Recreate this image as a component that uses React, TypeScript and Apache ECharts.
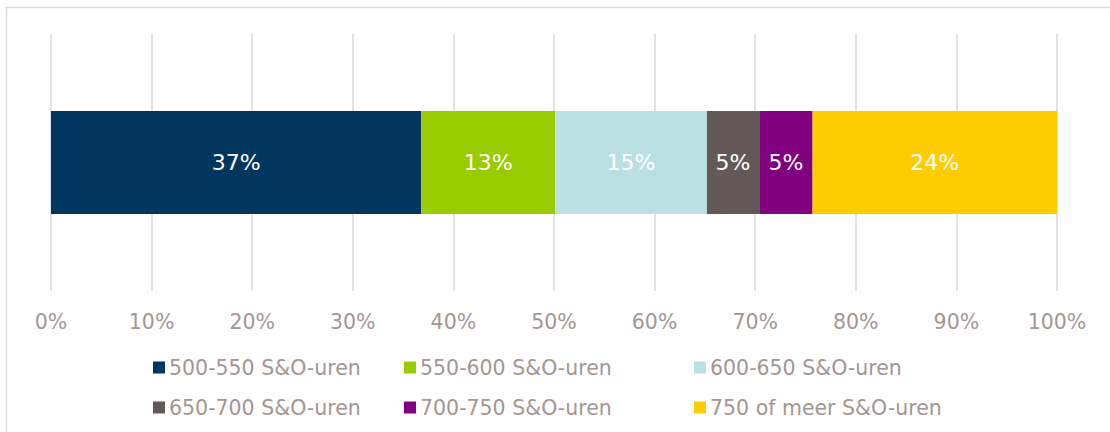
import React, { useEffect, useRef } from "react";
import * as echarts from "echarts";

const seriesNames = [
  "500-550 S&O-uren",
  "550-600 S&O-uren",
  "600-650 S&O-uren",
  "650-700 S&O-uren",
  "700-750 S&O-uren",
  "750 of meer S&O-uren",
];
const seriesValues = [36.8, 13.3, 15.1, 5.2, 5.3, 24.3];
const seriesColors = ["#003660", "#99cc00", "#bbe0e3", "#635958", "#800080", "#ffcc00"];
const categories = [""];
const legendPositions = [
  [153, 357],
  [404, 357],
  [694, 357],
  [153, 397],
  [404, 397],
  [694, 397],
];

const FONT = "DejaVu Sans, Verdana, sans-serif";
const TEXT = "#a39693";

export default function App() {
  const ref = useRef<HTMLDivElement>(null);
  useEffect(() => {
    if (!ref.current) return;
    const chart = echarts.init(ref.current, null, { renderer: "svg" });
    chart.setOption({
      animation: false,
      backgroundColor: "#ffffff",
      textStyle: { fontFamily: FONT },
      graphic: [
        {
          type: "rect",
          shape: { x: 6.5, y: 7.5, width: 1200, height: 500 },
          style: { fill: "none", stroke: "#dedede", lineWidth: 1.5 },
          silent: true,
          z: -1,
        },
      ],
      grid: { left: 51, right: 53, top: 34, bottom: 141, containLabel: false },
      xAxis: {
        type: "value",
        min: 0,
        max: 100,
        interval: 10,
        axisLine: { show: false },
        axisTick: { show: false },
        splitLine: { show: true, lineStyle: { color: "#e6e0e0", width: 2 } },
        axisLabel: {
          formatter: "{value}%",
          color: TEXT,
          fontSize: 20.5,
          fontFamily: FONT,
          margin: 20,
        },
      },
      yAxis: {
        type: "category",
        data: categories,
        show: false,
      },
      legend: seriesNames.map((n, i) => ({
        data: [n],
        left: legendPositions[i][0],
        top: legendPositions[i][1],
        padding: 0,
        itemWidth: 12,
        itemHeight: 12,
        itemGap: 5,
        icon: "rect",
        selectedMode: false,
        textStyle: { color: TEXT, fontSize: 20.5, fontFamily: FONT, padding: [0, 0, 0, -1] },
      })),
      series: seriesNames.map((n, i) => ({
        name: n,
        type: "bar",
        stack: "total",
        barWidth: 103,
        itemStyle: { color: seriesColors[i] },
        label: {
          show: true,
          position: "inside",
          color: "#ffffff",
          fontSize: 22,
          fontFamily: FONT,
          formatter: (p: any) => Math.round(p.value) + "%",
        },
        data: [seriesValues[i]],
      })),
    });
    return () => chart.dispose();
  }, []);
  return (
    <div
      ref={ref}
      style={{ position: "fixed", left: 0, top: 0, width: 1110, height: 432 }}
    />
  );
}
